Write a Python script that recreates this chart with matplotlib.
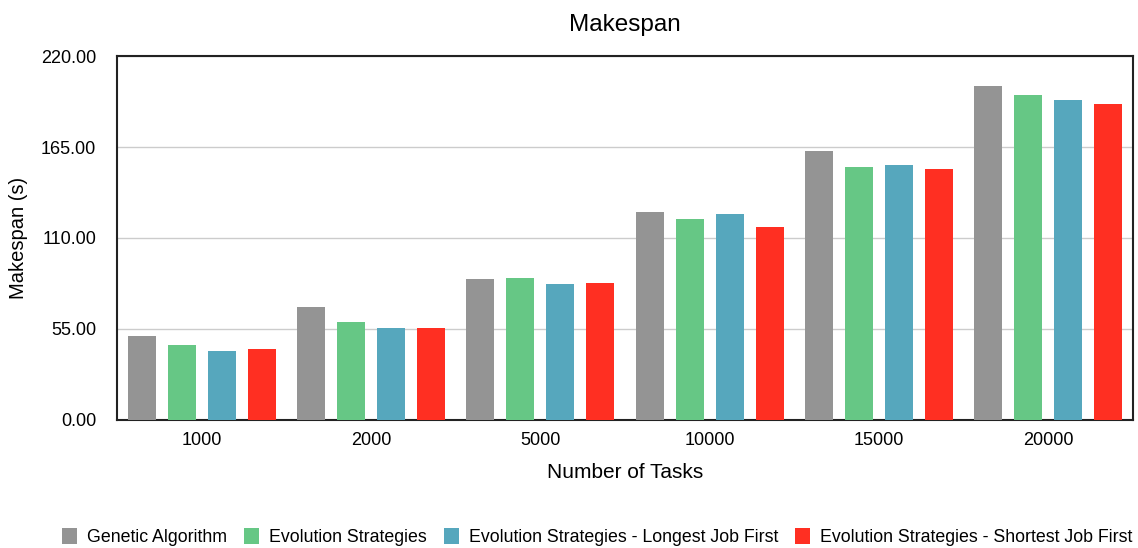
import numpy as np
import matplotlib.pyplot as plt
from matplotlib.patches import Patch

plt.rcParams['font.family'] = ['Liberation Sans', 'DejaVu Sans']

# Data
tasks = ['1000', '2000', '5000', '10000', '15000', '20000']
series = ['Genetic Algorithm', 'Evolution Strategies',
          'Evolution Strategies - Longest Job First',
          'Evolution Strategies - Shortest Job First']
ga = [51.0, 68.1, 85.5, 125.5, 162.4, 201.9]
es = [45.1, 59.2, 85.6, 121.3, 152.9, 196.2]
es_ljf = [41.9, 55.6, 82.0, 124.7, 153.9, 193.6]
es_sjf = [42.9, 55.6, 83.0, 116.7, 151.9, 191.0]
colors = ['#949494', '#66c785', '#56a7bd', '#ff2f22']

fig = plt.figure(figsize=(11.38, 5.48), dpi=100)
ax = fig.add_axes([0.1028, 0.2336, 0.8928, 0.6642])

x = np.arange(len(tasks))
width = 0.165
step = 0.236
for i, (vals, col) in enumerate(zip([ga, es, es_ljf, es_sjf], colors)):
    ax.bar(x + (i - 1.5) * step, vals, width, color=col, zorder=3)

ax.set_xlim(-0.5, len(tasks) - 0.5)
ax.set_ylim(0, 220)
ax.set_yticks([0, 55, 110, 165, 220])
ax.set_yticklabels([f'{v:.2f}' for v in [0, 55, 110, 165, 220]])
ax.set_xticks(x)
ax.set_xticklabels(tasks)
ax.tick_params(length=0, labelsize=13)
ax.tick_params(axis='y', pad=15)
ax.tick_params(axis='x', pad=9)
ax.yaxis.grid(True, color='#cccccc', linewidth=1, zorder=0)

for spine in ax.spines.values():
    spine.set_linewidth(1.5)
    spine.set_edgecolor('#222222')

ax.set_title('Makespan', fontsize=17.5, pad=18)
ax.set_xlabel('Number of Tasks', fontsize=15, labelpad=10)
ax.set_ylabel('Makespan (s)', fontsize=14.5, labelpad=9)

handles = [Patch(facecolor=c) for c in colors]
fig.legend(handles, series, loc='center', bbox_to_anchor=(0.525, 0.02),
           ncol=4, frameon=False, fontsize=12.8, handlelength=0.85,
           handleheight=1.0, handletextpad=0.56, columnspacing=0.95)

fig.savefig('out.png', dpi=100)
